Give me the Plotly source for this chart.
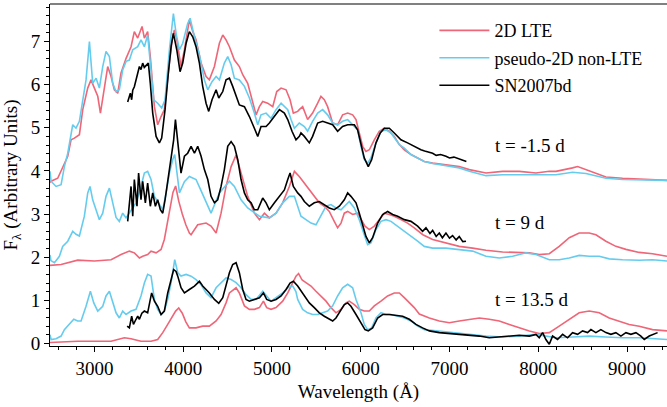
import plotly.graph_objects as go

# ---------------- data (wavelength in Angstrom, flux in arbitrary units) ----------------
# t = -1.5 d
wl_lte_a = [2500, 2512, 2587, 2643, 2700, 2737, 2775, 2831, 2869, 2925, 2962, 3000, 3038, 3068, 3113, 3150, 3188, 3225, 3263, 3300,
            3357, 3413, 3450, 3488, 3537, 3563, 3600, 3630, 3676, 3713, 3751, 3788, 3845, 3880, 3901, 3928, 3976, 4014, 4070, 4108,
            4145, 4202, 4258, 4295, 4352, 4408, 4446, 4483, 4521, 4577, 4633, 4671, 4727, 4776, 4821, 4859, 4896, 4952, 5009, 5054,
            5103, 5159, 5204, 5241, 5290, 5308, 5346, 5402, 5458, 5515, 5552, 5590, 5627, 5684, 5740, 5796, 5853, 5909, 5947, 5984,
            6022, 6059, 6097, 6153, 6209, 6266, 6322, 6378, 6435, 6491, 6566, 6641, 6716, 6810, 6960, 7110, 7223, 7411, 7598, 7786,
            7974, 8124, 8199, 8311, 8386, 8443, 8537, 8649, 8762, 8949, 9137, 9450]
fx_lte_a = [3.73, 3.76, 3.83, 4.07, 4.34, 4.72, 4.76, 4.84, 5.42, 5.92, 6.11, 5.92, 5.73, 5.34, 5.96, 6.42, 6.19, 5.88, 5.80, 6.27,
            6.61, 6.88, 7.23, 7.08, 7.35, 7.08, 7.23, 6.65, 5.49, 5.07, 5.26, 5.42, 6.50, 7.10, 7.27, 7.04, 6.42, 6.81, 7.50, 7.23,
            7.04, 6.50, 6.19, 6.11, 6.42, 6.96, 7.15, 7.04, 6.88, 6.57, 6.42, 6.23, 6.03, 5.65, 5.30, 5.49, 5.61, 5.57, 5.49, 5.84,
            5.92, 5.88, 5.65, 5.34, 5.38, 5.42, 5.49, 5.19, 5.34, 5.57, 5.73, 5.65, 5.49, 5.11, 5.07, 5.30, 5.34, 5.30, 5.19, 4.88,
            4.57, 4.45, 4.49, 4.72, 4.92, 4.99, 4.92, 4.80, 4.61, 4.49, 4.38, 4.30, 4.22, 4.18, 4.14, 4.10, 4.03, 3.95, 3.99, 3.99,
            3.95, 3.99, 3.99, 4.03, 4.07, 4.10, 4.03, 3.94, 3.86, 3.83, 3.81, 3.78]

wl_nlte_a = [2500, 2512, 2568, 2625, 2662, 2700, 2756, 2793, 2831, 2869, 2906, 2944, 2981, 3019, 3056, 3094, 3131, 3169, 3206, 3244,
             3281, 3319, 3357, 3394, 3432, 3488, 3525, 3563, 3600, 3630, 3668, 3713, 3758, 3796, 3845, 3890, 3920, 3958, 3995, 4051,
             4078, 4127, 4183, 4239, 4277, 4325, 4371, 4408, 4464, 4502, 4540, 4577, 4633, 4690, 4746, 4802, 4840, 4877, 4934, 4990,
             5046, 5103, 5140, 5178, 5215, 5253, 5308, 5365, 5402, 5458, 5515, 5571, 5627, 5684, 5740, 5796, 5853, 5909, 5965, 6003,
             6040, 6078, 6115, 6172, 6228, 6284, 6341, 6435, 6491, 6566, 6641, 6716, 6810, 6960, 7110, 7223, 7411, 7598, 7786, 7974,
             8124, 8199, 8386, 8537, 8762, 8949, 9450]
fx_nlte_a = [3.99, 3.76, 3.64, 3.68, 4.10, 4.41, 5.07, 4.99, 5.15, 5.65, 6.11, 7.00, 6.03, 6.15, 5.92, 6.42, 6.77, 6.65, 6.03, 5.84,
             5.88, 6.34, 6.54, 6.57, 6.81, 6.88, 7.04, 6.88, 7.15, 6.50, 5.65, 5.57, 5.46, 5.65, 6.81, 7.65, 7.19, 6.81, 6.96, 7.42,
             7.54, 7.11, 6.69, 6.11, 5.88, 6.07, 6.19, 6.11, 6.50, 6.65, 6.46, 6.15, 6.11, 5.96, 5.69, 5.34, 5.07, 5.30, 5.34, 5.22,
             5.42, 5.57, 5.49, 5.42, 5.19, 4.99, 5.11, 5.03, 4.92, 5.15, 5.34, 5.42, 5.30, 5.11, 5.07, 5.15, 5.19, 5.07, 4.95, 4.57,
             4.26, 4.18, 4.30, 4.65, 4.92, 4.95, 4.88, 4.61, 4.53, 4.38, 4.30, 4.22, 4.17, 4.12, 4.07, 3.99, 3.89, 3.91, 3.91, 3.91,
             3.91, 3.91, 3.97, 3.94, 3.83, 3.80, 3.78]

wl_obs_a = [3375, 3405, 3420, 3432, 3450, 3469, 3490, 3507, 3525, 3544, 3562, 3582, 3608, 3630, 3657, 3695, 3732, 3758, 3796, 3833,
            3865, 3890, 3928, 3965, 3995, 4033, 4070, 4108, 4145, 4183, 4220, 4258, 4288, 4325, 4371, 4401, 4446, 4483, 4521, 4558,
            4596, 4633, 4690, 4746, 4802, 4840, 4877, 4934, 4971, 5028, 5084, 5140, 5178, 5226, 5271, 5309, 5327, 5365, 5421, 5458,
            5515, 5571, 5627, 5684, 5740, 5796, 5853, 5928, 5965, 6003, 6040, 6085, 6123, 6172, 6220, 6266, 6322, 6378, 6453, 6528,
            6603, 6640, 6678, 6720, 6760, 6810, 6850, 6900, 6960, 7000, 7050, 7110, 7150, 7190]
fx_obs_a = [5.60, 5.80, 5.65, 5.87, 5.95, 6.11, 6.30, 6.42, 6.35, 6.50, 6.40, 6.45, 6.50, 6.03, 5.34, 4.80, 4.65, 4.76, 5.42, 6.27,
            6.90, 7.19, 6.81, 6.30, 6.50, 6.96, 7.23, 7.11, 6.88, 6.50, 5.96, 5.57, 5.38, 5.65, 5.88, 5.69, 5.84, 6.11, 6.15, 5.96,
            5.73, 5.53, 5.49, 5.26, 4.99, 4.80, 5.03, 5.03, 5.11, 5.26, 5.42, 5.34, 5.19, 4.92, 4.72, 4.80, 4.88, 4.80, 4.65, 4.80,
            5.11, 5.15, 5.11, 5.07, 4.92, 5.03, 5.07, 5.07, 4.95, 4.65, 4.30, 4.10, 4.26, 4.65, 4.88, 4.99, 4.99, 4.88, 4.72, 4.65,
            4.57, 4.52, 4.49, 4.46, 4.44, 4.41, 4.36, 4.38, 4.34, 4.30, 4.32, 4.28, 4.24, 4.22]

# t = 9 d
wl_lte_b = [2500, 2625, 2812, 3000, 3188, 3300, 3394, 3450, 3507, 3544, 3600, 3638, 3695, 3751, 3788, 3826, 3863, 3885, 3915, 3950,
            3990, 4030, 4070, 4089, 4164, 4258, 4314, 4371, 4427, 4483, 4540, 4596, 4652, 4727, 4802, 4859, 4915, 4971, 5046, 5121,
            5196, 5253, 5308, 5365, 5421, 5477, 5534, 5590, 5646, 5702, 5740, 5778, 5815, 5853, 5909, 5965, 6003, 6048, 6097, 6153,
            6209, 6266, 6322, 6378, 6453, 6528, 6603, 6700, 6810, 6960, 7110, 7261, 7411, 7598, 7786, 7899, 8011, 8124, 8236, 8349,
            8461, 8574, 8649, 8762, 8874, 8987, 9137, 9287, 9450]
fx_lte_b = [1.81, 1.83, 1.93, 1.91, 1.94, 2.06, 2.14, 2.10, 1.98, 2.02, 2.06, 2.14, 2.10, 2.18, 2.41, 2.87, 3.33, 3.50, 3.65, 3.30,
            3.00, 2.75, 2.56, 2.52, 2.75, 2.79, 2.72, 2.56, 3.02, 3.64, 4.10, 4.37, 3.95, 3.41, 3.02, 2.87, 3.02, 2.91, 3.02, 3.26,
            3.64, 3.99, 3.87, 3.72, 3.56, 3.41, 3.26, 3.18, 3.06, 2.83, 2.68, 2.79, 3.02, 3.06, 2.99, 3.02, 2.87, 2.72, 2.64, 2.72,
            2.87, 3.02, 2.99, 2.95, 2.87, 2.79, 2.68, 2.52, 2.41, 2.33, 2.25, 2.21, 2.16, 2.12, 2.10, 2.10, 2.06, 2.08, 2.25, 2.45,
            2.56, 2.56, 2.52, 2.37, 2.25, 2.18, 2.11, 2.08, 2.02]

wl_nlte_b = [2500, 2510, 2550, 2606, 2643, 2700, 2756, 2793, 2831, 2887, 2925, 2951, 2981, 3019, 3056, 3094, 3131, 3169, 3206, 3244,
             3281, 3319, 3357, 3413, 3469, 3525, 3563, 3600, 3638, 3676, 3720, 3770, 3808, 3845, 3882, 3905, 3958, 4014, 4070, 4145,
             4200, 4277, 4314, 4408, 4521, 4577, 4652, 4727, 4802, 4859, 4971, 5046, 5121, 5196, 5253, 5290, 5327, 5383, 5440, 5496,
             5552, 5609, 5665, 5721, 5778, 5834, 5871, 5928, 5984, 6033, 6078, 6115, 6172, 6228, 6284, 6341, 6416, 6491, 6566, 6641,
             6716, 6810, 6960, 7110, 7261, 7411, 7561, 7711, 7861, 7974, 8124, 8236, 8349, 8461, 8574, 8687, 8799, 8949, 9137, 9287,
             9450]
fx_nlte_b = [2.05, 1.92, 1.87, 2.02, 2.25, 2.37, 2.60, 2.53, 2.49, 2.95, 3.49, 3.64, 3.33, 3.10, 2.87, 3.02, 3.41, 3.60, 3.26, 2.92,
             2.83, 3.02, 2.91, 3.10, 3.26, 3.64, 3.95, 3.99, 3.80, 3.41, 3.26, 3.10, 3.49, 3.95, 4.26, 4.38, 3.49, 3.75, 3.87, 3.80,
             3.55, 3.18, 3.02, 3.49, 3.76, 3.64, 3.33, 3.14, 3.02, 2.95, 2.91, 3.02, 3.26, 3.41, 3.41, 3.18, 2.95, 2.87, 2.79, 2.75,
             2.95, 3.18, 3.22, 3.14, 3.10, 3.22, 3.29, 3.14, 2.87, 2.56, 2.29, 2.33, 2.64, 2.83, 2.87, 2.83, 2.72, 2.60, 2.48, 2.37,
             2.25, 2.21, 2.21, 2.18, 2.14, 2.02, 1.98, 2.02, 2.10, 2.06, 1.94, 1.94, 1.98, 2.04, 2.02, 2.02, 1.96, 1.94, 1.93, 1.94,
             1.91]

wl_obs_b = [3375, 3394, 3413, 3432, 3450, 3480, 3498, 3525, 3544, 3574, 3600, 3630, 3657, 3687, 3713, 3743, 3770, 3796, 3826, 3863,
            3893, 3913, 3939, 3976, 4014, 4051, 4089, 4127, 4164, 4202, 4239, 4277, 4314, 4352, 4389, 4427, 4464, 4502, 4540, 4577,
            4615, 4652, 4690, 4727, 4765, 4802, 4840, 4896, 4934, 4971, 5028, 5084, 5140, 5178, 5204, 5241, 5290, 5327, 5365, 5421,
            5477, 5534, 5590, 5646, 5702, 5759, 5815, 5853, 5890, 5947, 5984, 6022, 6059, 6097, 6134, 6191, 6247, 6303, 6360, 6416,
            6491, 6566, 6641, 6697, 6735, 6780, 6810, 6850, 6885, 6920, 6960, 7000, 7035, 7075, 7110, 7150, 7186]
fx_obs_b = [2.83, 3.33, 3.64, 2.95, 3.80, 3.18, 3.95, 3.33, 3.76, 3.26, 3.72, 3.18, 3.49, 3.18, 3.33, 3.10, 3.02, 3.33, 3.80, 4.26,
            4.72, 5.19, 4.65, 3.95, 4.34, 4.41, 4.57, 4.41, 4.57, 4.34, 4.03, 3.80, 3.41, 3.26, 3.33, 3.64, 4.03, 4.57, 4.68, 4.57,
            4.26, 3.80, 3.49, 3.33, 3.26, 3.10, 3.10, 3.37, 3.26, 3.10, 3.26, 3.41, 3.56, 3.80, 3.95, 3.64, 3.49, 3.41, 3.29, 3.18,
            3.26, 3.29, 3.22, 3.14, 3.10, 3.18, 3.33, 3.49, 3.41, 3.26, 3.02, 2.72, 2.48, 2.33, 2.45, 2.79, 2.99, 3.06, 2.99, 2.95,
            2.87, 2.83, 2.72, 2.60, 2.68, 2.55, 2.62, 2.48, 2.56, 2.45, 2.56, 2.44, 2.50, 2.40, 2.48, 2.36, 2.37]

# t = 13.5 d
wl_lte_c = [2500, 2812, 3000, 3188, 3338, 3413, 3525, 3638, 3713, 3770, 3826, 3882, 3915, 3950, 3990, 4030, 4070, 4145, 4220, 4295,
            4371, 4427, 4483, 4521, 4596, 4633, 4690, 4746, 4802, 4859, 4904, 4941, 4990, 5046, 5121, 5178, 5234, 5271, 5300, 5340,
            5383, 5440, 5496, 5552, 5609, 5665, 5721, 5778, 5834, 5871, 5928, 5984, 6040, 6097, 6153, 6228, 6303, 6378, 6435, 6491,
            6547, 6603, 6660, 6773, 6885, 6998, 7110, 7223, 7336, 7448, 7561, 7674, 7786, 7899, 8011, 8124, 8236, 8349, 8461, 8574,
            8687, 8799, 8912, 9024, 9137, 9287, 9450]
fx_lte_c = [0.02, 0.05, 0.05, 0.05, 0.13, 0.11, 0.05, 0.05, 0.09, 0.25, 0.44, 0.63, 0.75, 0.82, 0.70, 0.50, 0.36, 0.36, 0.40, 0.40,
            0.52, 0.67, 0.94, 1.17, 1.29, 1.17, 0.87, 0.79, 0.79, 0.83, 0.98, 0.83, 0.79, 0.83, 0.98, 1.17, 1.40, 1.56, 1.62, 1.47,
            1.41, 1.33, 1.21, 1.10, 0.98, 0.83, 0.71, 0.79, 0.94, 0.98, 0.90, 0.79, 0.75, 0.75, 0.87, 0.98, 1.10, 1.17, 1.17, 1.06,
            0.94, 0.83, 0.68, 0.59, 0.52, 0.48, 0.52, 0.56, 0.59, 0.56, 0.52, 0.44, 0.36, 0.29, 0.23, 0.25, 0.40, 0.56, 0.71, 0.75,
            0.71, 0.59, 0.52, 0.44, 0.40, 0.32, 0.29]

wl_nlte_c = [2500, 2512, 2568, 2625, 2662, 2718, 2768, 2812, 2850, 2906, 2955, 2993, 3038, 3094, 3131, 3169, 3206, 3244, 3281, 3319,
             3357, 3413, 3469, 3525, 3563, 3600, 3638, 3676, 3713, 3751, 3788, 3826, 3863, 3893, 3905, 3939, 3976, 4033, 4089, 4145,
             4202, 4258, 4314, 4371, 4427, 4483, 4540, 4596, 4652, 4708, 4765, 4821, 4896, 4941, 4990, 5046, 5121, 5178, 5234, 5270,
             5290, 5346, 5402, 5458, 5515, 5571, 5627, 5684, 5740, 5796, 5853, 5909, 5947, 6003, 6040, 6078, 6123, 6172, 6228, 6284,
             6341, 6416, 6491, 6566, 6641, 6716, 6848, 7035, 7223, 7411, 7598, 7786, 7974, 8124, 8199, 8386, 8574, 8762, 8949, 9137,
             9450]
fx_nlte_c = [0.20, 0.09, 0.11, 0.17, 0.32, 0.44, 0.56, 0.52, 0.52, 0.86, 1.21, 0.94, 0.75, 0.86, 1.10, 1.21, 0.94, 0.71, 0.59, 0.75,
             0.67, 0.75, 0.79, 1.10, 1.40, 1.60, 1.56, 1.02, 0.79, 0.67, 0.75, 1.02, 1.40, 1.87, 1.94, 1.64, 1.56, 1.60, 1.56, 1.48,
             1.36, 1.17, 1.06, 1.29, 1.41, 1.52, 1.48, 1.41, 1.29, 1.13, 1.02, 1.02, 1.21, 1.10, 0.98, 1.06, 1.17, 1.29, 1.33, 1.20,
             1.02, 0.79, 0.71, 0.67, 0.67, 0.71, 0.75, 0.87, 1.10, 1.29, 1.37, 1.29, 1.02, 0.71, 0.44, 0.32, 0.36, 0.59, 0.71, 0.67,
             0.67, 0.63, 0.59, 0.52, 0.40, 0.32, 0.29, 0.26, 0.21, 0.17, 0.15, 0.17, 0.21, 0.15, 0.13, 0.15, 0.17, 0.15, 0.13, 0.13,
             0.09]

wl_obs_c = [3369, 3394, 3420, 3440, 3469, 3488, 3507, 3535, 3563, 3600, 3630, 3645, 3676, 3713, 3751, 3788, 3826, 3863, 3893, 3920,
            3939, 3976, 4014, 4070, 4127, 4183, 4220, 4258, 4295, 4352, 4401, 4446, 4483, 4521, 4558, 4596, 4633, 4671, 4708, 4746,
            4802, 4859, 4904, 4941, 4990, 5046, 5103, 5159, 5204, 5241, 5290, 5327, 5365, 5421, 5477, 5534, 5590, 5646, 5684, 5721,
            5778, 5815, 5853, 5890, 5947, 6003, 6048, 6085, 6134, 6191, 6247, 6322, 6397, 6472, 6547, 6622, 6697, 6773, 6885, 6998,
            7110, 7223, 7336, 7448, 7561, 7674, 7786, 7899, 7974, 8011, 8049, 8086, 8124, 8161, 8217, 8274, 8330, 8386, 8443, 8499,
            8555, 8593, 8649, 8705, 8762, 8818, 8874, 8931, 8987, 9043, 9100, 9156, 9194, 9250, 9306, 9344]
fx_obs_c = [0.40, 0.36, 0.63, 0.44, 0.56, 0.63, 0.56, 0.70, 0.75, 0.71, 1.02, 1.17, 0.98, 0.86, 0.67, 0.75, 1.17, 1.48, 1.71, 1.67,
            1.56, 1.29, 1.17, 1.25, 1.33, 1.44, 1.33, 1.25, 1.17, 1.02, 0.93, 1.06, 1.33, 1.64, 1.83, 1.87, 1.64, 1.25, 1.02, 0.98,
            1.02, 1.06, 1.17, 1.02, 0.98, 1.02, 1.10, 1.25, 1.40, 1.44, 1.33, 1.22, 1.10, 0.94, 0.83, 0.71, 0.63, 0.56, 0.52, 0.59,
            0.79, 0.90, 0.94, 0.86, 0.67, 0.48, 0.32, 0.29, 0.36, 0.59, 0.67, 0.67, 0.65, 0.63, 0.56, 0.44, 0.36, 0.29, 0.25, 0.23,
            0.21, 0.19, 0.17, 0.13, 0.15, 0.17, 0.19, 0.17, 0.21, 0.13, 0.25, 0.09, -0.02, 0.17, 0.09, 0.21, 0.13, 0.25, 0.21, 0.29,
            0.25, 0.32, 0.25, 0.32, 0.25, 0.21, 0.25, 0.17, 0.25, 0.21, 0.25, 0.17, 0.09, 0.17, 0.21, 0.25]

series_names = ["2D LTE", "pseudo-2D non-LTE", "SN2007bd"]
epoch_labels = ["t = -1.5 d", "t = 9 d", "t = 13.5 d"]
label_x = [7490, 7490, 7490]
label_y = [4.6, 2.8, 1.02]

x_ticks = [3000, 4000, 5000, 6000, 7000, 8000, 9000]
y_ticks = [0, 1, 2, 3, 4, 5, 6, 7]

# ---------------- figure ----------------
RED = "#EE6677"
CYAN = "#66CCEE"
BLACK = "#000000"
FONT = "Liberation Serif"

groups = [
    (series_names[0], RED, [(wl_lte_a, fx_lte_a), (wl_lte_b, fx_lte_b), (wl_lte_c, fx_lte_c)]),
    (series_names[1], CYAN, [(wl_nlte_a, fx_nlte_a), (wl_nlte_b, fx_nlte_b), (wl_nlte_c, fx_nlte_c)]),
    (series_names[2], BLACK, [(wl_obs_a, fx_obs_a), (wl_obs_b, fx_obs_b), (wl_obs_c, fx_obs_c)]),
]

fig = go.Figure()
for name, color, parts in groups:
    for i, (wl, fx) in enumerate(parts):
        fig.add_trace(go.Scatter(
            x=wl, y=fx, mode="lines", name=name, legendgroup=name,
            showlegend=(i == 0),
            line=dict(color=color, width=1.6),
        ))

for txt, lx, ly in zip(epoch_labels, label_x, label_y):
    fig.add_annotation(x=lx, y=ly, text=txt, showarrow=False, xanchor="left", yanchor="middle",
                       font=dict(family=FONT, size=19, color="black"))

axis_common = dict(showgrid=False, zeroline=False, showline=True, linecolor="black", linewidth=1,
                   ticks="outside", ticklen=5, tickcolor="black", tickwidth=1,
                   tickfont=dict(family=FONT, size=19, color="black"))

fig.update_xaxes(range=[2500, 9450], tickvals=x_ticks, ticktext=[str(v) for v in x_ticks],
                 minor=dict(dtick=200, tick0=2400, ticks="outside", ticklen=3, tickcolor="black"),
                 title=dict(text="Wavelength (Å)", font=dict(family=FONT, size=19, color="black"), standoff=6),
                 **axis_common)
fig.update_yaxes(range=[-0.06, 7.87], tickvals=y_ticks, ticktext=[str(v) for v in y_ticks],
                 minor=dict(dtick=0.2, tick0=0, ticks="outside", ticklen=3, tickcolor="black"),
                 title=dict(text="F<sub>λ</sub> (Arbitrary Units)", font=dict(family=FONT, size=19, color="black"), standoff=8),
                 **axis_common)

fig.add_shape(type="line", xref="paper", yref="paper", x0=0, x1=1, y0=1, y1=1,
              line=dict(color="#808080", width=2))

fig.update_layout(
    width=667, height=407,
    margin=dict(l=50, r=0, t=4, b=61, autoexpand=False),
    paper_bgcolor="white", plot_bgcolor="white",
    font=dict(family=FONT, color="black"),
    showlegend=True,
    legend=dict(x=0.623, y=0.976, xanchor="left", yanchor="top", bgcolor="rgba(0,0,0,0)",
                font=dict(family=FONT, size=18, color="black"), tracegroupgap=1,
                itemwidth=50),
)

fig.write_html("out.html", post_script="document.body.style.margin='0';",
               config={"displayModeBar": False})
